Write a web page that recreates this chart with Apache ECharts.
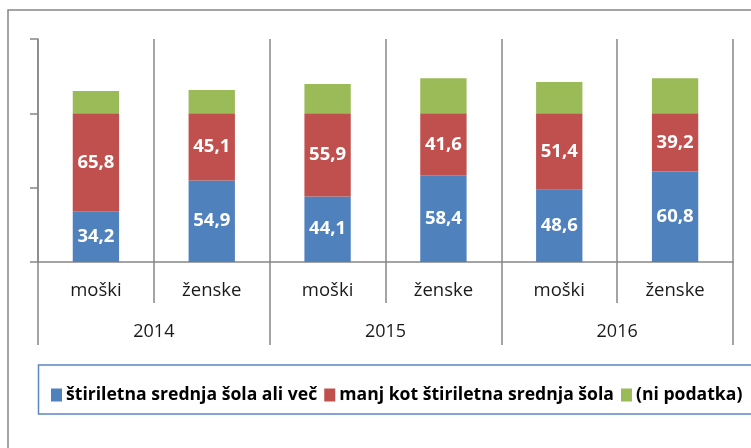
<!DOCTYPE html>
<html>
<head>
<meta charset="utf-8">
<script src="https://cdn.jsdelivr.net/npm/echarts@6/dist/echarts.min.js"></script>
<style>
  html, body { margin: 0; padding: 0; background: #fff; }
  #chart { width: 751px; height: 448px; }
</style>
</head>
<body>
<div id="chart"></div>
<script>
// kategorije
var spol = ['moški', 'ženske', 'moški', 'ženske', 'moški', 'ženske'];
var leta = ['2014', '2015', '2016'];
// vrednosti (%)
var stiriletna = [34.2, 54.9, 44.1, 58.4, 48.6, 60.8];
var manjKot = [65.8, 45.1, 55.9, 41.6, 51.4, 39.2];
var niPodatka = [15.0, 15.7, 19.7, 23.6, 21.1, 23.6];
var imena = ['štiriletna srednja šola ali več', 'manj kot štiriletna srednja šola', '(ni podatka)'];

var sivo = '#878787';
var font = '"Open Sans", "DejaVu Sans", sans-serif';

function vejica(p) {
  return p.value.toFixed(1).replace('.', ',');
}

var label = {
  show: true,
  position: 'inside',
  color: '#fff',
  fontFamily: font,
  fontWeight: 'bold',
  fontSize: 18.5,
  formatter: vejica
};

var chart = echarts.init(document.getElementById('chart'));
chart.setOption({
  animation: false,
  color: ['#4F81BD', '#C0504D', '#9BBB59'],
  grid: { left: 38, right: 18, top: 39, bottom: 186 },
  graphic: [
    // okvir grafa
    { type: 'rect', shape: { x: 8, y: 10, width: 800, height: 500 },
      style: { fill: 'none', stroke: sivo, lineWidth: 1.5 }, silent: true },
    // okvir legende
    { type: 'rect', shape: { x: 38.5, y: 365, width: 720, height: 49 },
      style: { fill: 'none', stroke: '#5b87c2', lineWidth: 1.5 }, silent: true }
  ],
  legend: {
    left: 46,
    top: 381,
    itemWidth: 11,
    itemHeight: 13,
    itemGap: 7,
    icon: 'rect',
    textStyle: { fontFamily: font, fontWeight: 'bold', fontSize: 17.6, color: '#000', padding: [0, 0, 0, -1] },
    data: imena
  },
  xAxis: [
    {
      type: 'category',
      data: spol,
      position: 'bottom',
      axisLine: { lineStyle: { color: sivo, width: 1.5 } },
      axisTick: { show: true, length: 41, interval: 0, lineStyle: { color: sivo, width: 1.5 } },
      splitLine: { show: true, interval: 0, lineStyle: { color: sivo, width: 1.5 } },
      axisLabel: { interval: 0, margin: 19, color: '#1a1a1a', fontFamily: font, fontSize: 18.5 }
    },
    {
      type: 'category',
      data: leta,
      position: 'bottom',
      axisLine: { show: false },
      axisTick: { show: true, length: 83, interval: 0, lineStyle: { color: sivo, width: 1.5 } },
      axisLabel: { interval: 0, margin: 61, color: '#1a1a1a', fontFamily: font, fontSize: 18 }
    }
  ],
  yAxis: {
    type: 'value',
    min: 0,
    max: 150,
    interval: 50,
    axisLine: { show: true, lineStyle: { color: sivo, width: 1.5 } },
    axisTick: { show: true, length: 8, lineStyle: { color: sivo, width: 1.5 } },
    axisLabel: { show: false },
    splitLine: { show: false }
  },
  series: [
    { name: imena[0], type: 'bar', stack: 'a', barWidth: '40%', data: stiriletna, label: label },
    { name: imena[1], type: 'bar', stack: 'a', data: manjKot, label: label },
    { name: imena[2], type: 'bar', stack: 'a', data: niPodatka }
  ]
});
</script>
</body>
</html>
